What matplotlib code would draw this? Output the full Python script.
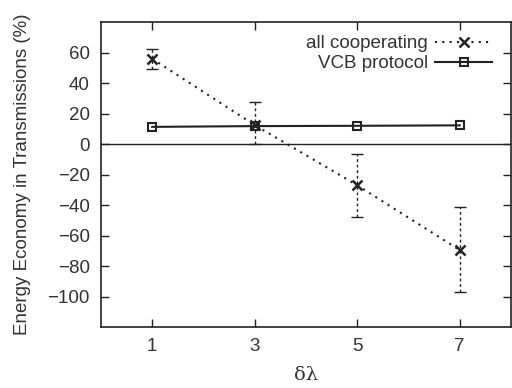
import matplotlib
matplotlib.use("Agg")
import matplotlib.pyplot as plt

plt.rcParams['font.family'] = ['Liberation Sans', 'DejaVu Sans']

delta_lambda = [1, 3, 5, 7]
coop_mean = [56, 12.5, -27, -69.5]
coop_low = [49.5, 0, -47.5, -97]
coop_high = [62.5, 27.5, -6.5, -41.5]
vcb_mean = [11.3, 11.8, 12.0, 12.3]

ink = '#222222'
text_c = '#333333'

fig = plt.figure(figsize=(5.12, 3.88), dpi=100)
ax = fig.add_axes([0.197, 0.157, 0.801, 0.786])

yerr = [[m - lo for m, lo in zip(coop_mean, coop_low)],
        [hi - m for m, hi in zip(coop_mean, coop_high)]]

ax.axhline(0, color=ink, lw=1.0, zorder=1)

eb = ax.errorbar(delta_lambda, coop_mean, yerr=yerr, fmt='none',
                 ecolor=ink, elinewidth=1.0, capsize=4, capthick=1.0, zorder=2)
for lc in eb[2]:
    lc.set_linestyle((0, (2, 2)))

ax.plot(delta_lambda, coop_mean, linestyle=(0, (1, 2.5)), color=ink, lw=1.5,
        marker='x', markersize=7, markeredgewidth=1.8, label='all cooperating', zorder=3)
ax.plot(delta_lambda, vcb_mean, linestyle='-', color=ink, lw=1.5,
        marker='s', markersize=6, markerfacecolor='none', markeredgewidth=1.5,
        label='VCB protocol', zorder=3)

ax.set_xlim(0, 8)
ax.set_ylim(-120, 80)
ax.set_xticks(delta_lambda)
ax.set_yticks(range(-100, 61, 20))
ax.set_yticklabels([str(v).replace('-', '\u2212') for v in range(-100, 61, 20)])
ax.tick_params(direction='in', top=True, right=True, length=6, width=1,
               colors=ink, labelcolor=text_c, labelsize=13.5, pad=8)
for s in ax.spines.values():
    s.set_color(ink)
    s.set_linewidth(1.2)

ax.set_xlabel('\u03b4\u03bb', fontsize=14, color=text_c, family=['DejaVu Serif'], labelpad=8)
ax.set_ylabel('Energy Economy in Transmissions (%)', fontsize=13.5, color=text_c, labelpad=12)

leg = ax.legend(loc='upper right', frameon=False, markerfirst=False, fontsize=13.5,
                handlelength=3.0, handletextpad=0.4, labelspacing=0.15,
                borderaxespad=0.3, bbox_to_anchor=(0.985, 1.0))
for t in leg.get_texts():
    t.set_color(text_c)

fig.savefig('out.png', dpi=100)
